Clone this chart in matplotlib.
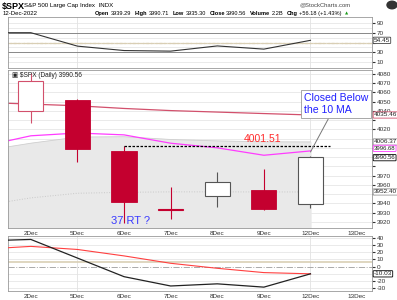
import matplotlib
matplotlib.use('Agg')
import matplotlib.pyplot as plt
import numpy as np
from matplotlib.transforms import blended_transform_factory

plt.rcParams['font.family'] = ['Liberation Sans', 'DejaVu Sans']
plt.rcParams['axes.unicode_minus'] = False

# dates: index -1 is Dec 1 (only used for indicator lines running off the left edge)
day_labels = ['2Dec', '5Dec', '6Dec', '7Dec', '8Dec', '9Dec', '12Dec', '13Dec']
line_x = [-1, 0, 1, 2, 3, 4, 5, 6]

opens = [4040.17, 4052.02, 3996.63, 3933.28, 3947.79, 3954.17, 3939.29]
highs = [4080.48, 4052.45, 4001.51, 3957.57, 3974.19, 3977.02, 3990.71]
lows = [4026.63, 3984.49, 3918.39, 3922.68, 3935.83, 3933.04, 3935.30]
closes = [4071.70, 3998.84, 3941.26, 3933.92, 3963.51, 3934.38, 3990.56]
prev_close = 4076.57

ma_red = [4049.0, 4047.2, 4045.4, 4042.5, 4040.2, 4038.6, 4037.0, 4035.46]
ma_10 = [4002.0, 4013.0, 4016.0, 4014.0, 4005.0, 4000.0, 3992.0, 3996.68]
band_upper = [3997.0, 4005.0, 4011.6, 4012.0, 4009.0, 4007.5, 4006.5, 4006.37]
band_mid = [3938.0, 3946.0, 3951.0, 3952.0, 3952.5, 3952.5, 3952.4, 3952.40]

rsi = [70.0, 70.0, 42.6, 33.6, 32.4, 43.0, 36.5, 54.45]
osc_black = [36.0, 38.0, 12.0, -14.0, -27.0, -24.0, -28.6, -10.03]
osc_red = [24.5, 28.3, 24.0, 15.0, 4.7, -2.3, -8.3, -10.0]

price_ticks = list(range(3920, 4090, 10))
price_labels = ['3920', '3930', '3940', '', '3960', '3970', '', '', '4000', '', '4020', '',
                '4040', '4050', '4060', '4070', '4080']
rsi_ticks = [90, 70, 50, 30, 10]
rsi_labels = ['90', '70', '', '30', '10']
osc_ticks = [40, 30, 20, 10, 0, -20, -30]

header_parts = [('Open', True), ('3939.29', False), ('High', True), ('3990.71', False),
                ('Low', True), ('3935.30', False), ('Close', True), ('3990.56', False),
                ('Volume', True), ('2.2B', False), ('Chg', True), ('+56.18 (+1.43%)', False)]

RED = '#c4002f'
PINK = '#d2506c'
MAGENTA = '#ff3cff'
TAN = '#d9cfb5'
GRID = '#e2e2e2'

W, H = 397, 300
fig = plt.figure(figsize=(W / 100, H / 100), dpi=100)
fig.patch.set_facecolor('white')
renderer = fig.canvas.get_renderer()


def px_axes(left, top, right, bottom):
    return fig.add_axes([left / W, 1 - bottom / H, (right - left) / W, (bottom - top) / H])


def style(ax, ticks, labels, ylim):
    ax.set_xlim(-0.49, 7.32)
    ax.set_ylim(*ylim)
    ax.yaxis.tick_right()
    ax.set_yticks(ticks)
    ax.set_yticklabels(labels)
    ax.tick_params(axis='y', labelsize=4.6, length=2, pad=1.5, colors='#333333')
    ax.tick_params(axis='x', labelsize=4.6, length=0, pad=2, colors='#333333')
    ax.set_xticks(range(len(day_labels)))
    ax.set_xticklabels(day_labels)
    for s in ax.spines.values():
        s.set_color('#999999')
        s.set_linewidth(0.6)
    for x in [1, 6]:
        ax.axvline(x, color=GRID, lw=0.6, zorder=0)


def value_box(ax, val, text, ec, size=4.6):
    tr = blended_transform_factory(ax.transAxes, ax.transData)
    ax.text(1.005, val, text, transform=tr, fontsize=size, va='center', ha='left',
            color='#222222', clip_on=False, zorder=10,
            bbox=dict(boxstyle='round,pad=0.1', fc='white', ec=ec, lw=0.6))


# ---- header ----
fig.text(2 / W, 1 - 6 / H, '$SPX', fontsize=6.5, weight='bold', va='center')
fig.text(24 / W, 1 - 6 / H, 'S&P 500 Large Cap Index  INDX', fontsize=4.4, va='center')
fig.text(3 / W, 1 - 13.5 / H, '12-Dec-2022', fontsize=4.4, va='center')
xpos = 95
for i, (t, b) in enumerate(header_parts):
    txt = fig.text(xpos / W, 1 - 13.5 / H, t, fontsize=4.1, va='center',
                   weight='bold' if b else 'normal')
    w = txt.get_window_extent(renderer).width
    xpos += w + (1.5 if b else 3.5)
fig.text(xpos / W, 1 - 13.5 / H, '\u25b2', fontsize=3, va='center', color='#1a9a1a',
         family='DejaVu Sans')
fig.text(300 / W, 1 - 4.5 / H, '@StockCharts.com', fontsize=4.2, va='center', color='#444444')
fig.patches.append(plt.Circle((392 / W, 1 - 5 / H), 5 / W, transform=fig.transFigure,
                              color='#333333', zorder=5))

# ---- RSI panel ----
ax1 = px_axes(8, 17, 372, 68)
style(ax1, rsi_ticks, rsi_labels, (-2, 102))
for v in [80, 60, 40, 20, 10, 90]:
    ax1.axhline(v, color=GRID, lw=0.5, zorder=0)
for v in [70, 30]:
    ax1.axhline(v, color='#888888', lw=0.7, zorder=1)
ax1.axhline(50, color=TAN, lw=0.9, ls='-.', zorder=1)
ax1.plot([0, 1], [1 - 42.7 / H, 1 - 42.7 / H], transform=fig.transFigure, color=TAN, lw=0.9,
         ls='-.', zorder=0)
ax1.plot(line_x, rsi, color='#333333', lw=0.8, zorder=3)
ax1.set_xticklabels([])
value_box(ax1, rsi[-1], '54.45', '#444444')

# ---- price panel ----
ax = px_axes(8, 70, 372, 228)
style(ax, price_ticks, price_labels, (3913.5, 4084))
for v in price_ticks:
    ax.axhline(v, color=GRID, lw=0.5, zorder=0)
ax.fill_between(line_x, band_upper, 3850, color='#e9e9e9', zorder=1)
ax.plot(line_x, band_upper, color='#cfcfcf', lw=0.6, zorder=1)
ax.plot(line_x, band_mid, color='#c8c8c8', lw=0.7, ls=':', zorder=2)
ax.plot(line_x, ma_red, color=PINK, lw=0.9, zorder=2)
ax.plot(line_x, ma_10, color=MAGENTA, lw=0.9, zorder=2)

last_c = prev_close
for i, (o, h, l, c) in enumerate(zip(opens, highs, lows, closes)):
    col = RED if c < last_c else '#555555'
    if i == 0:
        col = PINK
    ax.vlines(i, l, h, color=col, lw=0.8, zorder=4)
    lo, hi = min(o, c), max(o, c)
    hgt = max(hi - lo, 0.6)
    if c < o:
        ax.bar(i, hgt, bottom=lo, width=0.54, color=RED, edgecolor=RED, lw=0.6, zorder=5)
    else:
        ax.bar(i, hgt, bottom=lo, width=0.54, color='white', edgecolor=col, lw=0.8, zorder=5)
    last_c = c

ax.plot([2, 6.42], [highs[2], highs[2]], color='black', lw=0.9, ls=(0, (2, 1.2)), zorder=6)
ax.text(4.98, 4004.5, '4001.51', color='#ff2a2a', fontsize=7.5, ha='center', va='bottom', zorder=7)
ax.text(2.13, 3921.5, '37 RT ?', color='#3a3aff', fontsize=8, ha='center', va='center', zorder=7,
        clip_on=False)
ax.annotate('Closed Below\nthe 10 MA', xy=(6.0, 3995.5), xytext=(5.86, 4047),
            fontsize=7.6, color='#2020ff', ha='left', va='center', zorder=8,
            bbox=dict(boxstyle='square,pad=0.3', fc='white', ec='#999999', lw=0.6),
            arrowprops=dict(arrowstyle='-', color='#777777', lw=0.7,
                            shrinkA=0, shrinkB=0))
ax.text(0.012, 0.985, '\u25a3 $SPX (Daily) 3990.56', transform=ax.transAxes, fontsize=4.7,
        va='top', ha='left', color='#222222', zorder=9)

value_box(ax, ma_red[-1], '4035.46', PINK)
value_box(ax, band_upper[-1], '4006.37', '#999999')
value_box(ax, ma_10[-1] + 2.8, '3996.68', MAGENTA, 4.3)
value_box(ax, closes[-1] - 1.2, '3990.56', '#000000', 4.3)
value_box(ax, band_mid[-1], '3952.40', '#999999')

# ---- oscillator panel ----
ax3 = px_axes(8, 236, 372, 291)
style(ax3, osc_ticks, [str(t) for t in osc_ticks], (-34, 42.8))
for v in [40, 30, 20, 10, -10, -20, -30]:
    ax3.axhline(v, color=GRID, lw=0.5, zorder=0)
ax3.plot([0, 1], [1 - 262 / H, 1 - 262 / H], transform=fig.transFigure, color=TAN, lw=1.2,
         zorder=0)
ax3.axhline(0, color='#aaaaaa', lw=0.7, ls='-.', zorder=1)
ax3.plot(line_x, osc_red, color='#ff4040', lw=0.8, zorder=3)
ax3.plot(line_x, osc_black, color='#222222', lw=0.9, zorder=4)
value_box(ax3, osc_black[-1], '-10.03', '#000000')

fig.savefig('out.png', dpi=100)
